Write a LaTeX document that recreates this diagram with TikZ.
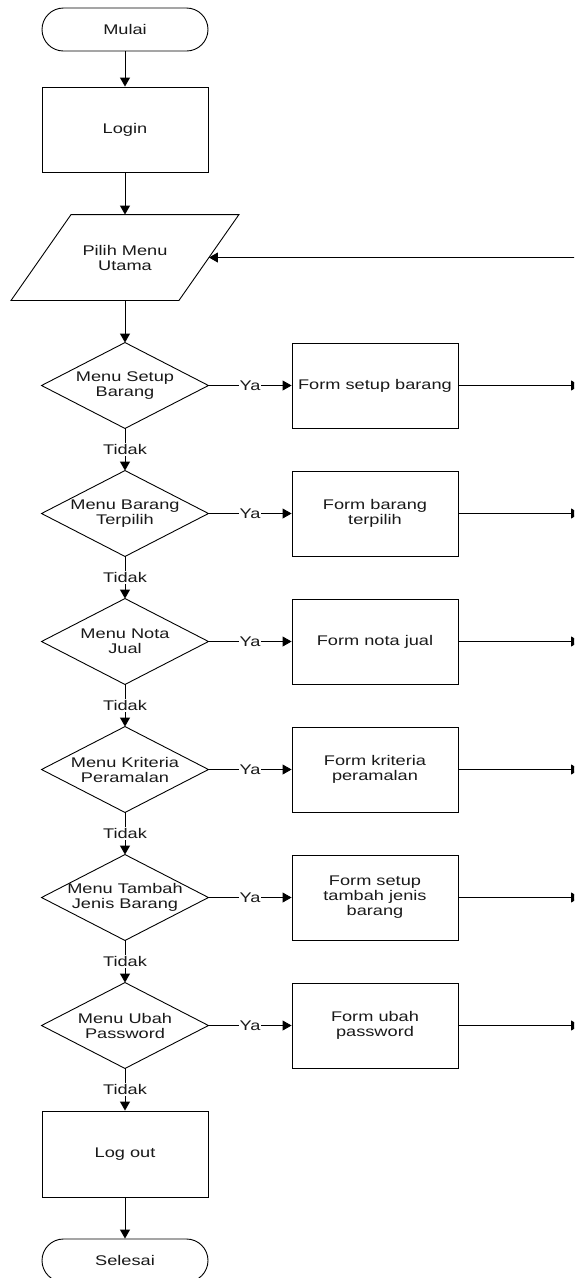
\documentclass[tikz,border=0pt]{standalone}
\usepackage{fontspec}
\setmainfont{Liberation Sans}[FakeStretch=1.3]
\usepackage{tikz}
\usetikzlibrary{arrows.meta,calc}

\begin{document}
\begin{tikzpicture}[x=1pt,y=-1pt,line width=0.9pt,
  every node/.style={font=\fontsize{14}{15}\selectfont,text=black!90,align=center,inner sep=0pt},
  terminal/.style={draw,rounded corners=21.5pt,minimum width=166pt,minimum height=43pt},
  process/.style={draw,minimum width=166pt,minimum height=85pt},
  decision/.style={minimum width=166pt,minimum height=85pt,
    append after command={\pgfextra{\draw (\tikzlastnode.north)--(\tikzlastnode.east)
      --(\tikzlastnode.south)--(\tikzlastnode.west)--cycle;}}},
  inout/.style={minimum width=167pt,minimum height=85pt,
    append after command={\pgfextra{\draw ($(\tikzlastnode.north west)+(30,0)$)
      --($(\tikzlastnode.north east)+(30,0)$)--($(\tikzlastnode.south east)+(-30,0)$)
      --($(\tikzlastnode.south west)+(-30,0)$)--cycle;}}},
  arr/.style={-{Triangle[length=9pt,width=10pt]}},
  lbl/.style={fill=white,inner sep=1pt}]
  \useasboundingbox (0,0) rectangle (574,1278);
  \clip (0,0) rectangle (574,1278);
  \node[terminal] (mulai) at (125,29.5){Mulai};
  \node[process] (login) at (125,129.5){Login};
  \node[inout] (pilih) at (125,257.5){Pilih Menu\\Utama};
  \node[decision] (menu1) at (125,385.5){Menu Setup\\Barang};
  \node[decision] (menu2) at (125,513.5){Menu Barang\\Terpilih};
  \node[decision] (menu3) at (125,641.5){Menu Nota\\Jual};
  \node[decision] (menu4) at (125,769.5){Menu Kriteria\\Peramalan};
  \node[decision] (menu5) at (125,897.5){Menu Tambah\\Jenis Barang};
  \node[decision] (menu6) at (125,1025.5){Menu Ubah\\Password};
  \node[process] (form1) at (375,385.5){Form setup barang};
  \node[process] (form2) at (375,513.5){Form barang\\terpilih};
  \node[process] (form3) at (375,641.5){Form nota jual};
  \node[process] (form4) at (375,769.5){Form kriteria\\peramalan};
  \node[process] (form5) at (375,897.5){Form setup\\tambah jenis\\barang};
  \node[process] (form6) at (375,1025.5){Form ubah\\password};
  \node[process,minimum height=86pt] (logout) at (125,1154){Log out};
  \node[terminal] (selesai) at (125,1260.5){Selesai};
  \coordinate (out) at (580,0);
  \coordinate (back) at (580,257.5);
  \draw[arr] (mulai) -- (login);
  \draw[arr] (login) -- (pilih);
  \draw[arr] (pilih) -- (menu1);
  \draw[arr] (back) -- (pilih.east);
  \foreach \i in {1,...,6} {
    \draw[arr] (menu\i.east) -- node[lbl]{Ya} (form\i.west);
    \draw[arr] (form\i.east) -- (form\i.east -| out);
  }
  \foreach \i/\j in {1/2,2/3,3/4,4/5,5/6}
    \draw[arr] (menu\i.south) -- node[lbl]{Tidak} (menu\j.north);
  \draw[arr] (menu6.south) -- node[lbl]{Tidak} (logout);
  \draw[arr] (logout) -- (selesai);
\end{tikzpicture}
\end{document}
